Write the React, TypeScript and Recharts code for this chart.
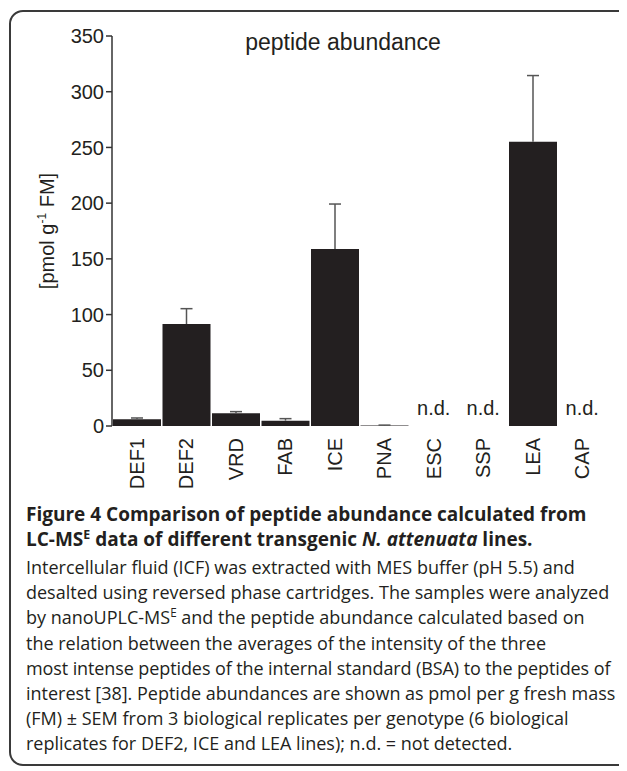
import React from "react"
import { Bar, BarChart, XAxis, YAxis } from "recharts"

const genotypes = ["DEF1", "DEF2", "VRD", "FAB", "ICE", "PNA", "ESC", "SSP", "LEA", "CAP"]
const abundance = [6.0, 91.5, 11.4, 4.8, 158.8, 0.4, 0, 0, 255.2, 0]
const sem = [1.2, 13.8, 1.5, 1.8, 40.4, 0.4, null, null, 59.3, null]
const notDetected = [false, false, false, false, false, false, true, true, false, true]
const yTicks = [0, 50, 100, 150, 200, 250, 300, 350]
const boundaryTicks = [0, 1, 2, 3, 4, 5, 6, 7, 8, 9, 10]

const data = genotypes.map((g, i) => ({
  genotype: g,
  value: abundance[i],
  sem: sem[i],
}))

const INK = "#231f20"
const SANS = "'Liberation Sans', Arial, Helvetica, sans-serif"
const TICK_OFFSET = 12 // tickSize + tickMargin of the category axis

// upper-only SEM whisker drawn on the stacked segment above each bar
const Whisker = ({ x, y, width, height }: any) => {
  if (!width || height == null || height <= 0) return null
  const cx = x + width / 2
  return (
    <g stroke="#555" strokeWidth={1.5}>
      <line x1={cx} y1={y + height} x2={cx} y2={y} />
      <line x1={cx - 6} y1={y} x2={cx + 6} y2={y} />
    </g>
  )
}

const GenotypeTick = ({ x, y, payload, index }: any) => {
  const i = payload.index ?? index
  return (
    <g>
      <text
        transform={`translate(${x},${y}) rotate(-90)`}
        textAnchor="end"
        dy="0.36em"
        fontSize={20}
        fontFamily={SANS}
        fill={INK}
      >
        {payload.value}
      </text>
      {notDetected[i] && (
        <text x={x} y={y - TICK_OFFSET - 11} textAnchor="middle" fontSize={20} fontFamily={SANS} fill={INK}>
          n.d.
        </text>
      )}
    </g>
  )
}

const YLabel = ({ viewBox }: any) => {
  const cx = viewBox.x + 39
  const cy = viewBox.y + viewBox.height / 2
  return (
    <text
      transform={`translate(${cx},${cy}) rotate(-90)`}
      textAnchor="middle"
      dy="0.36em"
      fontSize={20}
      fontFamily={SANS}
      fill={INK}
    >
      [pmol g
      <tspan dy={-8} fontSize={12}>
        -1
      </tspan>
      <tspan dy={8}> FM]</tspan>
    </text>
  )
}

const sup = { fontSize: "0.65em", position: "relative" as const, top: "-0.6em", lineHeight: 0 }

export default function App() {
  return (
    <div style={{ position: "relative", width: 619, height: 763, overflow: "hidden" }}>
      <div
        style={{
          position: "absolute",
          left: 1,
          top: 2,
          width: 660,
          height: 756,
          border: "2px solid #3a3a3a",
          borderRadius: 14,
          boxSizing: "border-box",
        }}
      />
      <div
        style={{
          position: "absolute",
          left: 235,
          top: 21,
          width: 200,
          textAlign: "center",
          fontFamily: SANS,
          fontSize: 23,
          color: INK,
          whiteSpace: "nowrap",
        }}
      >
        peptide abundance
      </div>
      <BarChart
        width={619}
        height={498}
        data={data}
        margin={{ top: 28, right: 20, left: 0, bottom: 0 }}
        barCategoryGap={1}
        style={{ position: "absolute", left: 0, top: 0 }}
      >
        <XAxis
          xAxisId="grid"
          type="number"
          domain={[0, 10]}
          ticks={boundaryTicks}
          allowDataOverflow
          height={0}
          tick={false}
          tickSize={6}
          stroke="#333"
          strokeWidth={1.5}
        />
        <XAxis
          xAxisId="cat"
          dataKey="genotype"
          height={80}
          axisLine={false}
          tickLine={false}
          tickSize={6}
          tickMargin={6}
          interval={0}
          tick={<GenotypeTick />}
        />
        <YAxis
          domain={[0, 350]}
          ticks={yTicks}
          width={104}
          tickSize={6}
          stroke="#333"
          strokeWidth={1.5}
          allowDataOverflow
          tick={{ fontSize: 20, fontFamily: SANS, fill: INK }}
          label={{ content: <YLabel /> }}
        />
        <Bar dataKey="value" xAxisId="cat" stackId="s" fill={INK} isAnimationActive={false} />
        <Bar dataKey="sem" xAxisId="cat" stackId="s" shape={<Whisker />} isAnimationActive={false} />
      </BarChart>
      <div
        style={{
          position: "absolute",
          left: 18,
          top: 494,
          fontFamily: "'Open Sans', sans-serif",
          fontWeight: 700,
          fontSize: 19,
          lineHeight: "25px",
          color: INK,
          whiteSpace: "nowrap",
        }}
      >
        <div>Figure 4 Comparison of peptide abundance calculated from</div>
        <div>
          LC-MS<span style={sup}>E</span> data of different transgenic <i>N. attenuata</i> lines.
        </div>
      </div>
      <div
        style={{
          position: "absolute",
          left: 18,
          top: 547,
          fontFamily: "'Open Sans', sans-serif",
          fontSize: 18,
          lineHeight: "25.2px",
          color: INK,
          whiteSpace: "nowrap",
        }}
      >
        <div>Intercellular fluid (ICF) was extracted with MES buffer (pH 5.5) and</div>
        <div>desalted using reversed phase cartridges. The samples were analyzed</div>
        <div>
          by nanoUPLC-MS<span style={sup}>E</span> and the peptide abundance calculated based on
        </div>
        <div>the relation between the averages of the intensity of the three</div>
        <div style={{ letterSpacing: -0.1 }}>most intense peptides of the internal standard (BSA) to the peptides of</div>
        <div>interest [38]. Peptide abundances are shown as pmol per g fresh mass</div>
        <div>(FM) ± SEM from 3 biological replicates per genotype (6 biological</div>
        <div>replicates for DEF2, ICE and LEA lines); n.d. = not detected.</div>
      </div>
    </div>
  )
}
